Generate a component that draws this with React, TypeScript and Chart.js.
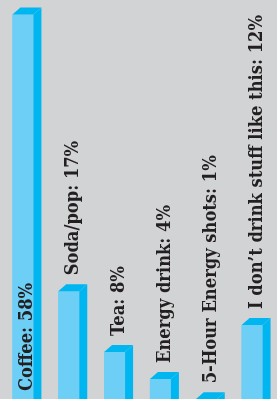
import React, { useEffect, useRef } from "react";
import { Chart, registerables } from "chart.js";

Chart.register(...registerables);

const categories = [
  "Coffee",
  "Soda/pop",
  "Tea",
  "Energy drink",
  "5-Hour Energy shots",
  "I don\u2019t drink stuff like this",
];
const shares = [58, 17, 8, 4, 1, 12];

const FRONT = "#6dcff6";
const SIDE = "#00b6f0";
const BG = "#d1d3d4";
const TEXT = "#231f20";
const DX = 8;
const DY = 7;
const FONT = "bold 19px 'DejaVu Serif', serif";
const SX = 0.86;

const cubePlugin = {
  id: "cube",
  afterDatasetsDraw(chart: any) {
    const ctx = chart.ctx;
    const meta = chart.getDatasetMeta(0);
    const bottom = chart.height + DY + 2;
    ctx.save();
    meta.data.forEach((bar: any, i: number) => {
      const { x, y, width } = bar.getProps(["x", "y", "width"], true);
      const l = x - width / 2;
      const r = x + width / 2;
      ctx.fillStyle = FRONT;
      ctx.fillRect(l, y, width, bottom - y);
      ctx.fillStyle = SIDE;
      ctx.beginPath();
      ctx.moveTo(r, y);
      ctx.lineTo(r + DX, y - DY);
      ctx.lineTo(r + DX, bottom);
      ctx.lineTo(r, bottom);
      ctx.closePath();
      ctx.fill();
      ctx.beginPath();
      ctx.moveTo(l, y);
      ctx.lineTo(l + DX, y - DY);
      ctx.lineTo(r + DX, y - DY);
      ctx.lineTo(r, y);
      ctx.closePath();
      ctx.fill();

      const label = `${categories[i]}: ${shares[i]}%`;
      ctx.save();
      ctx.fillStyle = TEXT;
      ctx.font = FONT;
      ctx.textBaseline = "alphabetic";
      ctx.textAlign = "left";
      const startY = i === 0 ? 391 : y - 16;
      ctx.translate(l + 20, startY);
      ctx.rotate(-Math.PI / 2);
      ctx.scale(SX, 1);
      ctx.fillText(label, 0, 0);
      ctx.restore();
    });
    ctx.restore();
  },
};

export default function App() {
  const ref = useRef<HTMLCanvasElement>(null);
  useEffect(() => {
    if (!ref.current) return;
    const chart = new Chart(ref.current, {
      type: "bar",
      data: {
        labels: categories,
        datasets: [
          {
            data: shares,
            backgroundColor: FRONT,
            borderWidth: 0,
            barPercentage: 0.458,
            categoryPercentage: 1,
          },
        ],
      },
      options: {
        animation: false,
        responsive: true,
        maintainAspectRatio: false,
        layout: { padding: { left: 0, right: 2, top: 0, bottom: 0 } },
        plugins: { legend: { display: false }, tooltip: { enabled: false } },
        scales: {
          x: { display: false },
          y: { display: false, min: 1.04, max: 60.15 },
        },
      },
      plugins: [cubePlugin],
    });
    return () => chart.destroy();
  }, []);
  return (
    <div
      style={{
        position: "fixed",
        left: 0,
        top: 0,
        width: 277,
        height: 399,
        background: BG,
      }}
    >
      <canvas ref={ref} />
    </div>
  );
}
